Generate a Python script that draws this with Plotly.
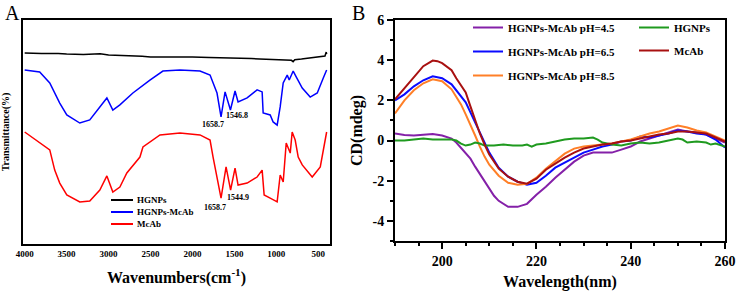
import plotly.graph_objects as go

# ---------------- Panel A: FTIR ----------------
hg_wn = [4000, 3800, 3600, 3500, 3300, 3100, 3000, 2800, 2600, 2500, 2200, 2000, 1800, 1600, 1500, 1300, 1200, 1000, 900, 820, 800, 780, 700, 600, 500, 420, 405, 400]
hg_t = [85.3, 85.0, 85.1, 84.8, 84.6, 84.9, 84.4, 84.2, 83.8, 83.5, 83.6, 83.5, 83.3, 83.2, 83.0, 82.8, 82.6, 82.4, 82.1, 82.0, 81.4, 82.3, 82.6, 83.0, 83.5, 83.9, 85.7, 84.8]

hm_wn = [4000, 3821, 3701, 3582, 3498, 3343, 3224, 3104, 3020, 2949, 2865, 2710, 2507, 2352, 2149, 1910, 1790, 1707, 1659, 1611, 1547, 1492, 1456, 1348, 1229, 1169, 1157, 1073, 1038, 990, 954, 918, 870, 846, 799, 763, 691, 596, 512, 440, 400]
hm_t = [77.7, 76.8, 71.9, 62.9, 57.6, 54.0, 55.4, 61.2, 65.2, 59.8, 62.1, 67.4, 73.2, 77.2, 77.7, 77.2, 75.4, 67.4, 56.7, 67.9, 59.8, 68.3, 63.4, 65.2, 68.8, 67.9, 58.5, 57.6, 54.5, 53.1, 61.2, 71.9, 75.4, 73.2, 77.2, 74.6, 69.6, 65.6, 67.4, 74.1, 77.7]

mc_wn = [4000, 3701, 3642, 3582, 3498, 3343, 3224, 3104, 3020, 2949, 2865, 2782, 2626, 2590, 2387, 2149, 1910, 1790, 1754, 1695, 1659, 1599, 1545, 1492, 1456, 1348, 1229, 1169, 1145, 1073, 990, 954, 918, 882, 834, 811, 775, 739, 691, 572, 476, 400]
mc_t = [50.0, 42.0, 33.0, 27.2, 21.9, 18.8, 19.2, 24.1, 30.4, 23.2, 25.4, 31.7, 38.8, 43.3, 48.7, 49.6, 48.7, 46.4, 38.8, 27.2, 20.5, 34.4, 24.1, 33.9, 26.3, 27.2, 29.9, 33.0, 21.9, 20.5, 18.8, 30.8, 27.7, 45.1, 40.6, 50.0, 46.4, 38.8, 35.3, 29.9, 34.4, 50.0]

ftir_ticks = [4000, 3500, 3000, 2500, 2000, 1500, 1000, 500]
ftir_names = ["HGNPs", "HGNPs-McAb", "McAb"]
ftir_colors = ["black", "#0000ff", "#ff0000"]

# peak labels: (wavenumber, transmittance, label, xshift, yshift)
peak_labels = [(1659, 56.7, "1658.7", -8, -8), (1547, 59.8, "1546.8", 7, -5),
               (1659, 20.5, "1658.7", -6, -9), (1545, 24.1, "1544.9", 7, -7)]

# ---------------- Panel B: CD ----------------
mcab_wl = [190, 192, 194, 196, 198, 199, 200, 202, 203, 204, 205, 206, 207, 208, 209, 210, 212, 214, 216, 218, 220, 222, 224, 226, 228, 230, 232, 234, 236, 238, 240, 242, 244, 246, 248, 250, 252, 254, 256, 258, 260]
mcab_cd = [2.05, 2.6, 3.15, 3.7, 3.98, 3.95, 3.85, 3.5, 3.1, 2.75, 2.4, 1.7, 1.0, 0.35, -0.2, -0.7, -1.4, -1.8, -2.05, -2.15, -1.9, -1.45, -1.15, -0.85, -0.6, -0.4, -0.3, -0.2, -0.15, -0.05, 0.0, 0.1, 0.2, 0.3, 0.35, 0.45, 0.45, 0.4, 0.35, 0.15, -0.05]

ph65_wl = [190, 192, 194, 196, 198, 200, 202, 204, 205, 206, 207, 208, 209, 210, 212, 214, 216, 218, 220, 222, 224, 226, 228, 230, 232, 234, 236, 238, 240, 242, 244, 246, 248, 250, 252, 254, 256, 258, 260]
ph65_cd = [2.0, 2.3, 2.7, 3.0, 3.2, 3.1, 2.8, 2.2, 1.9, 1.4, 0.9, 0.4, -0.1, -0.6, -1.35, -1.8, -2.05, -2.2, -2.1, -1.75, -1.35, -1.1, -0.85, -0.6, -0.45, -0.3, -0.2, -0.05, 0.0, 0.2, 0.15, 0.25, 0.35, 0.5, 0.45, 0.35, 0.3, 0.05, -0.35]

ph85_wl = [190, 192, 194, 196, 198, 200, 202, 204, 205, 206, 207, 208, 209, 210, 212, 214, 216, 218, 220, 222, 224, 226, 228, 230, 232, 234, 236, 238, 240, 242, 244, 246, 248, 250, 252, 254, 256, 258, 260]
ph85_cd = [1.35, 2.0, 2.5, 2.85, 3.05, 2.95, 2.55, 1.8, 1.3, 0.8, 0.25, -0.3, -0.8, -1.2, -1.75, -2.1, -2.2, -2.15, -1.85, -1.4, -1.0, -0.65, -0.4, -0.3, -0.25, -0.2, -0.15, -0.05, 0.05, 0.2, 0.35, 0.45, 0.6, 0.75, 0.65, 0.5, 0.4, 0.2, 0.0]

ph45_wl = [190, 192, 194, 196, 197, 198, 200, 202, 203, 204, 205, 206, 207, 208, 209, 210, 211, 212, 214, 216, 218, 220, 222, 224, 226, 228, 230, 232, 234, 236, 238, 240, 242, 244, 246, 248, 250, 252, 254, 256, 258, 260]
ph45_cd = [0.35, 0.28, 0.25, 0.28, 0.33, 0.32, 0.25, 0.1, -0.1, -0.35, -0.6, -0.9, -1.3, -1.65, -2.05, -2.4, -2.75, -3.0, -3.3, -3.3, -3.15, -2.7, -2.3, -1.85, -1.45, -1.05, -0.75, -0.6, -0.6, -0.6, -0.45, -0.3, -0.05, 0.1, 0.25, 0.4, 0.55, 0.45, 0.4, 0.3, 0.1, -0.1]

hgnp_wl = [190, 192, 194, 196, 198, 200, 202, 203, 204, 205, 206, 207, 208, 209, 211, 213, 215, 217, 218, 219, 220, 222, 224, 226, 228, 230, 232, 233, 234, 236, 238, 240, 242, 244, 246, 248, 250, 251, 252, 254, 256, 257, 258, 260]
hgnp_cd = [0.0, 0.0, 0.05, 0.1, 0.05, 0.05, 0.05, 0.0, -0.15, -0.25, -0.2, -0.1, -0.15, -0.25, -0.25, -0.2, -0.25, -0.25, -0.2, -0.3, -0.2, -0.15, -0.05, 0.05, 0.1, 0.1, 0.15, 0.05, -0.1, -0.2, -0.25, -0.15, -0.1, -0.15, -0.1, 0.0, 0.1, 0.05, -0.1, -0.05, -0.1, -0.2, -0.15, -0.3]

cd_xticks = [200, 220, 240, 260]
cd_yticks = [-4, -2, 0, 2, 4, 6]

FONT = "Liberation Serif"
W, H = 738, 299
ML, MR, MT, MB = 23, 13, 20, 55
PW, PH = W - ML - MR, H - MT - MB


def fx(px):
    return (px - ML) / PW


def fy(py):
    return (H - MB - py) / PH


fig = go.Figure()

# Panel A traces
for xs, ys, nm, col in zip([hg_wn, hm_wn, mc_wn], [hg_t, hm_t, mc_t], ftir_names, ftir_colors):
    fig.add_trace(go.Scatter(x=xs, y=ys, mode="lines", name=nm, showlegend=False,
                             line=dict(color=col, width=1.5), xaxis="x", yaxis="y"))

# Panel B traces
fig.add_trace(go.Scatter(x=ph45_wl, y=ph45_cd, mode="lines", name="<b>HGNPs-McAb pH=4.5</b>",
                         line=dict(color="#8420a8", width=2), xaxis="x2", yaxis="y2", legend="legend2", legendgroup="a"))
fig.add_trace(go.Scatter(x=ph65_wl, y=ph65_cd, mode="lines", name="<b>HGNPs-McAb pH=6.5</b>",
                         line=dict(color="#0a0aff", width=2), xaxis="x2", yaxis="y2", legend="legend2", legendgroup="b"))
fig.add_trace(go.Scatter(x=ph85_wl, y=ph85_cd, mode="lines", name="<b>HGNPs-McAb pH=8.5</b>",
                         line=dict(color="#ff7f27", width=2), xaxis="x2", yaxis="y2", legend="legend2", legendgroup="c"))
fig.add_trace(go.Scatter(x=hgnp_wl, y=hgnp_cd, mode="lines", name="<b>HGNPs</b>",
                         line=dict(color="#1f9a1f", width=2), xaxis="x2", yaxis="y2", legend="legend3", legendgroup="d"))
fig.add_trace(go.Scatter(x=mcab_wl, y=mcab_cd, mode="lines", name="<b>McAb</b>",
                         line=dict(color="#a81010", width=2), xaxis="x2", yaxis="y2", legend="legend3", legendgroup="e"))

axis_common = dict(showline=True, linecolor="black", linewidth=2, mirror=True, showgrid=False,
                   zeroline=False, automargin=False)

fig.update_layout(
    width=W, height=H,
    margin=dict(l=ML, r=MR, t=MT, b=MB, autoexpand=False),
    paper_bgcolor="white", plot_bgcolor="white",
    font=dict(family=FONT, color="black"),
    xaxis=dict(domain=[0, fx(330)], range=[4020, 360], tickvals=ftir_ticks,
               ticktext=[f"<b>{v}</b>" for v in ftir_ticks], tickfont=dict(size=9),
               ticks="", anchor="y",
               title=dict(text="<b>Wavenumbers(cm<sup>-1</sup>)</b>", font=dict(size=16), standoff=14),
               **axis_common),
    yaxis=dict(domain=[0, 1], range=[0, 100], showticklabels=False, ticks="", anchor="x",
               title=dict(text="<b>Transmittance(%)</b>", font=dict(size=10), standoff=11),
               **axis_common),
    xaxis2=dict(domain=[fx(395), fx(725)], range=[190, 260], tickvals=cd_xticks,
                ticktext=[f"<b>{v}</b>" for v in cd_xticks], tickfont=dict(size=14),
                ticks="outside", ticklen=6, tickwidth=1.5, tickcolor="black",
                minor=dict(dtick=5, ticks="outside", ticklen=3, tickwidth=1.5, tickcolor="black", showgrid=False),
                anchor="y2",
                title=dict(text="<b>Wavelength(nm)</b>", font=dict(size=16), standoff=8),
                **axis_common),
    yaxis2=dict(domain=[fy(241), 1], range=[-5, 6], tickvals=cd_yticks,
                ticktext=[f"<b>{v}</b>" for v in cd_yticks], tickfont=dict(size=14),
                ticks="outside", ticklen=6, tickwidth=1.5, tickcolor="black",
                minor=dict(dtick=1, ticks="outside", ticklen=3, tickwidth=1.5, tickcolor="black", showgrid=False),
                anchor="x2",
                title=dict(text="<b>CD(mdeg)</b>", font=dict(size=16), standoff=6),
                **axis_common),
    legend2=dict(x=fx(468), y=fy(13), xanchor="left", yanchor="top",
                 bgcolor="rgba(0,0,0,0)", font=dict(size=11, family=FONT),
                 tracegroupgap=5, itemwidth=30),
    legend3=dict(x=fx(634), y=fy(13), xanchor="left", yanchor="top",
                 bgcolor="rgba(0,0,0,0)", font=dict(size=11, family=FONT),
                 tracegroupgap=4, itemwidth=30),
    showlegend=True,
)

# Panel A legend (compact, as in the reference)
for i, (nm, col) in enumerate(zip(ftir_names, ftir_colors)):
    yy = 200 + 12 * i
    fig.add_shape(type="line", xref="paper", yref="paper", x0=fx(111), x1=fx(133), y0=fy(yy), y1=fy(yy),
                  line=dict(color=col, width=2))
    fig.add_annotation(x=fx(135), y=fy(yy), xref="paper", yref="paper", text=f"<b>{nm}</b>",
                       showarrow=False, xanchor="left", yanchor="middle", font=dict(size=9, family=FONT))

# Panel A peak labels
for xv, yv, txt, sx, sy in peak_labels:
    fig.add_annotation(x=xv, y=yv, xref="x", yref="y", text=f"<b>{txt}</b>", showarrow=False,
                       xshift=sx, yshift=sy, font=dict(size=8, family=FONT))

# Panel letters
fig.add_annotation(x=fx(3), y=fy(0), xref="paper", yref="paper", text="A", showarrow=False,
                   xanchor="left", yanchor="top", font=dict(size=20, family=FONT))
fig.add_annotation(x=fx(350), y=fy(0), xref="paper", yref="paper", text="B", showarrow=False,
                   xanchor="left", yanchor="top", font=dict(size=20, family=FONT))

fig.write_html("out.html", config={"displayModeBar": False},
               post_script="document.body.style.margin='0px';")
